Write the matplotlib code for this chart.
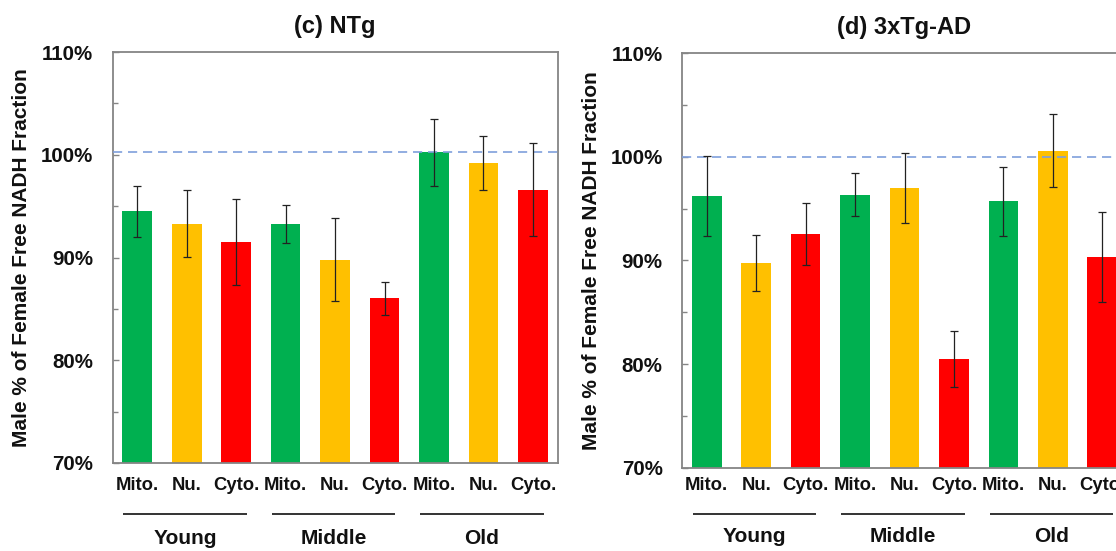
import matplotlib
matplotlib.use("Agg")
import matplotlib.pyplot as plt
from matplotlib.ticker import FixedLocator, FuncFormatter
from matplotlib.transforms import blended_transform_factory

plt.rcParams['font.family'] = ['Liberation Sans', 'DejaVu Sans']
plt.rcParams['font.weight'] = 'bold'

# ---- data -------------------------------------------------------------
ages = ["Young", "Middle", "Old"]
compartments = ["Mito.", "Nu.", "Cyto."]
bar_colors = ["#00b050", "#ffc000", "#ff0000"]

# Male as % of female free NADH fraction, bars ordered age-major
ntg_values = [94.5, 93.3, 91.5, 93.3, 89.8, 86.05, 100.25, 99.2, 96.6]
ntg_errors = [2.5, 3.25, 4.2, 1.85, 4.0, 1.6, 3.25, 2.6, 4.5]

ad_values = [96.2, 89.75, 92.55, 96.35, 97.0, 80.5, 95.7, 100.6, 90.3]
ad_errors = [3.85, 2.7, 3.0, 2.1, 3.4, 2.7, 3.3, 3.5, 4.35]

ntg_reference = 100.25
ad_reference = 100.0

y_ticks = [70, 80, 90, 100, 110]
y_minor = [75, 85, 95, 105]

# ---- figure -----------------------------------------------------------
W, H = 1116, 551
fig = plt.figure(figsize=(W / 100, H / 100), dpi=100)

ax_ntg = fig.add_axes([112.6 / W, 1 - 463 / H, 445 / W, 411 / H])
ax_ad = fig.add_axes([682 / W, 1 - 467.7 / H, 445 / W, 414.4 / H])

TXT = "#111111"
SPINE = "#858585"


def draw_panel(ax, title, values, errors, reference, cat_y, line_y, age_y):
    n = len(values)
    xs = list(range(n))
    colors = [bar_colors[i % 3] for i in xs]
    ax.bar(xs, values, width=0.6, color=colors, edgecolor='none', zorder=2)
    ax.errorbar(xs, values, yerr=errors, fmt='none', ecolor='#222222',
                elinewidth=0.9, capsize=2.6, capthick=0.9, zorder=4)
    ax.axhline(reference, color='#7f9fdc', lw=1.2, dashes=(5.5, 3.5), zorder=3)

    ax.set_xlim(-0.5, n - 0.5)
    ax.set_ylim(70, 110)
    ax.yaxis.set_major_locator(FixedLocator(y_ticks))
    ax.yaxis.set_minor_locator(FixedLocator(y_minor))
    ax.yaxis.set_major_formatter(FuncFormatter(lambda v, p: f"{v:.0f}%"))
    ax.tick_params(axis='y', which='major', direction='in', length=4,
                   width=1, color=SPINE, pad=14, labelsize=14.8,
                   labelcolor=TXT)
    ax.tick_params(axis='y', which='minor', direction='in', length=3.5,
                   width=1, color=SPINE)
    ax.tick_params(axis='x', which='both', bottom=False, labelbottom=False)
    for s in ax.spines.values():
        s.set_color(SPINE)
        s.set_linewidth(1.3)

    ax.set_ylabel("Male % of Female Free NADH Fraction", fontsize=15,
                  fontweight='bold', color=TXT, labelpad=7)
    ax.set_title(title, fontsize=17, fontweight='bold', color=TXT, pad=14)

    tr = blended_transform_factory(ax.transData, fig.transFigure)
    for i, x in enumerate(xs):
        ax.text(x, cat_y, compartments[i % 3], transform=tr, ha='center',
                va='center', fontsize=13.3, fontweight='bold', color=TXT)
    for g, age in enumerate(ages):
        x0, x1 = 3 * g - 0.28, 3 * g + 2.22
        ax.plot([x0, x1], [line_y, line_y], transform=tr, color='#333333',
                lw=1.4, clip_on=False, solid_capstyle='butt')
        ax.text(3 * g + 0.97, age_y, age, transform=tr, ha='center',
                va='center', fontsize=15, fontweight='bold', color=TXT)


draw_panel(ax_ntg, "(c) NTg", ntg_values, ntg_errors, ntg_reference,
           1 - 486 / H, 1 - 514 / H, 1 - 538 / H)
draw_panel(ax_ad, "(d) 3xTg-AD", ad_values, ad_errors, ad_reference,
           1 - 486 / H, 1 - 514 / H, 1 - 537 / H)

fig.savefig("out.png", dpi=100)
